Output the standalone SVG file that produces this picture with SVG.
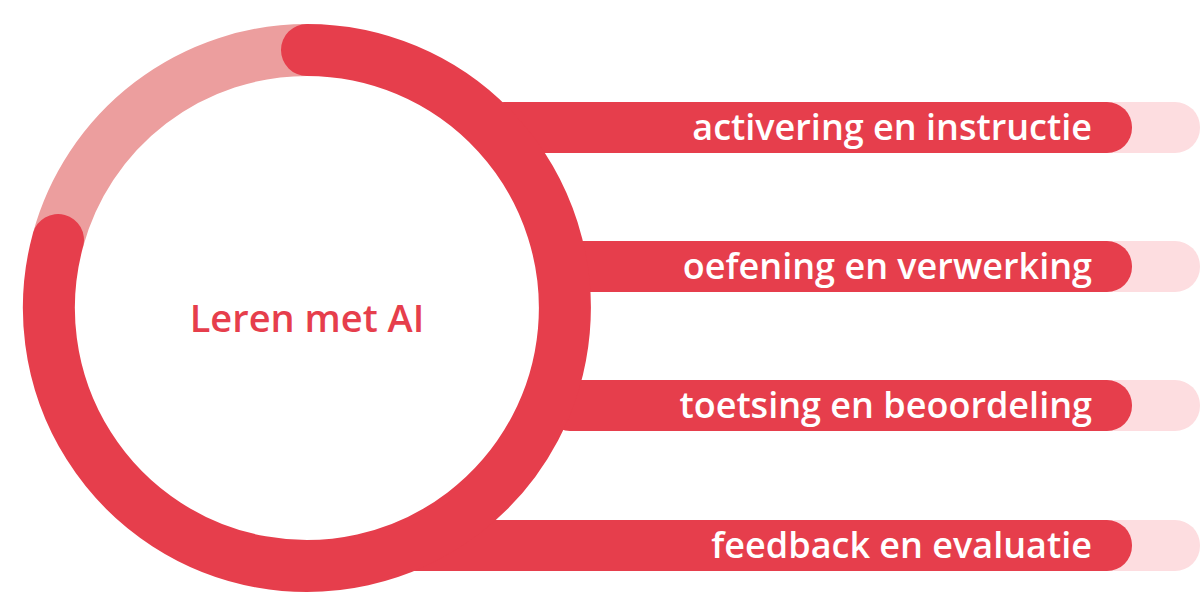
<svg xmlns="http://www.w3.org/2000/svg" width="1200" height="616" viewBox="0 0 1200 616">
<style>
.d{fill:#E63E4C}.l{fill:#FDDDE0}
.t{font-family:"Open Sans",sans-serif;font-weight:600;font-size:36px;fill:#fff;text-anchor:end}
.c{font-family:"Open Sans",sans-serif;font-weight:600;font-size:38px;fill:#E63E4C;text-anchor:middle}
</style>
<rect width="1200" height="616" fill="#fff"/>
<g id="connectors">
<rect class="l" x="1080" y="102" width="120" height="51" rx="25"/>
<rect class="l" x="1080" y="241" width="120" height="51" rx="25"/>
<rect class="l" x="1080" y="380" width="120" height="51" rx="25"/>
<rect class="l" x="1080" y="520" width="120" height="51" rx="25"/>
<rect class="d" x="479" y="102" width="653" height="51" rx="25"/>
<rect class="d" x="555" y="241" width="577" height="51" rx="25"/>
<rect class="d" x="545" y="380" width="587" height="51" rx="25"/>
<rect class="d" x="385" y="520" width="747" height="51" rx="25"/>
</g>
<g id="circle">
<path d="M307 50 A258 258 0 0 0 58 240" fill="none" stroke="#EC9E9E" stroke-width="52"/>
<path d="M307 50 A258 258 0 1 1 58 240" fill="none" stroke="#E63E4C" stroke-width="52" stroke-linecap="round"/>
<text class="c" x="307" y="332">Leren met AI</text>
</g>
<g id="n1"><text class="t" x="1092" y="140">activering en instructie</text></g>
<g id="n2"><text class="t" x="1092" y="279">oefening en verwerking</text></g>
<g id="n3"><text class="t" x="1092" y="418">toetsing en beoordeling</text></g>
<g id="n4"><text class="t" x="1092" y="558">feedback en evaluatie</text></g>
</svg>
